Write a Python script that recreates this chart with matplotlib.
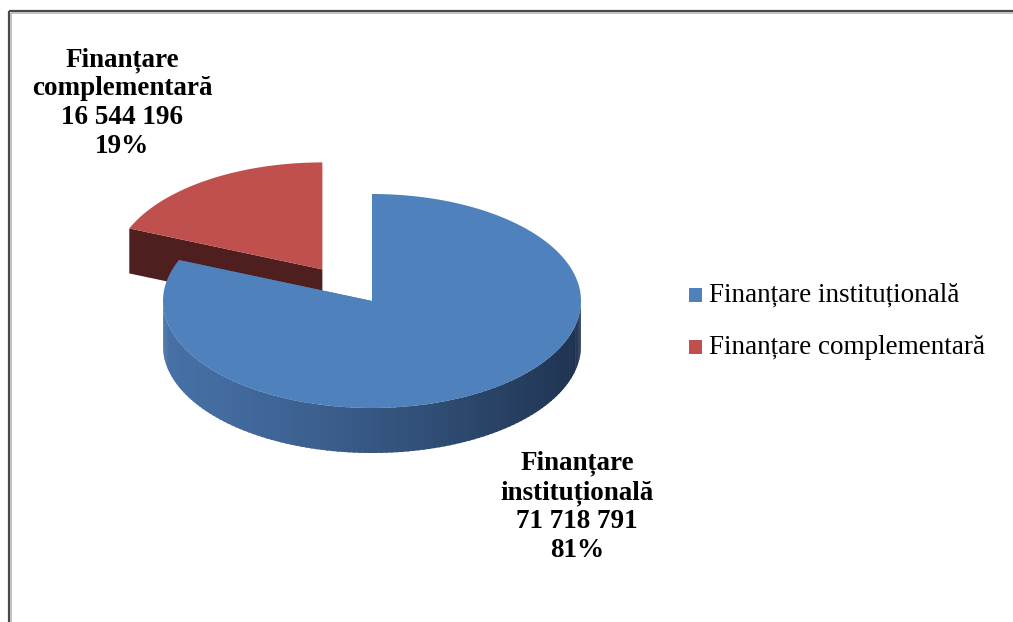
import numpy as np
import matplotlib.pyplot as plt
from matplotlib.patches import Polygon, Rectangle
from matplotlib.colors import to_rgb

# date
categorii = ['Finanțare instituțională', 'Finanțare complementară']
valori = [71718791, 16544196]
procente = ['81%', '19%']
etichete_valori = ['71 718 791', '16 544 196']
culori_sus = ['#4F81BD', '#C0504D']
culori_lat = [('#4670A6', '#1F3350'), ('#4F1E1E', '#4F1E1E')]
explode = [0.0, 0.4]

fig = plt.figure(figsize=(10.13, 6.22), dpi=100)
ax = fig.add_axes([0, 0, 1, 1])
ax.set_xlim(0, 1013)
ax.set_ylim(622, 0)
ax.axis('off')

# chenar
ax.add_patch(Rectangle((8.5, 10.5), 1200, 1200, fill=False, ec='#4a4a4a', lw=1.6))
ax.add_patch(Rectangle((10.5, 12.5), 1200, 1200, fill=False, ec='#b8b8b8', lw=1.2))

# geometrie pie 3D (ellipsa)
cx, cy, rx, ry, h = 372, 301, 209, 107, 45

total = sum(valori)
fr = [v / total for v in valori]
# prima felie porneste de la ora 12 si merge in sensul acelor de ceas
unghiuri = []
start = 90.0
for f in fr:
    unghiuri.append((start - 360 * f, start))
    start = start - 360 * f


def pct(c, t, dz=0):
    r = np.radians(t)
    return (c[0] + rx * np.cos(r), c[1] - ry * np.sin(r) + dz)


def centru(i):
    a0, a1 = unghiuri[i]
    m = np.radians((a0 + a1) / 2)
    e = explode[i]
    return (cx + e * rx * np.cos(m) - 8 * e, cy - e * ry * np.sin(m) + 10 * e)


def mix(c1, c2, t):
    a, b = np.array(to_rgb(c1)), np.array(to_rgb(c2))
    return a + (b - a) * t


def deseneaza(i):
    a0, a1 = unghiuri[i]
    c = centru(i)
    # fetele radiale
    for a in (a0, a1):
        p = pct(c, a)
        verts = [c, p, (p[0], p[1] + h), (c[0], c[1] + h)]
        ax.add_patch(Polygon(verts, closed=True, fc=culori_lat[i][0], ec='none', zorder=2))
    # perete lateral, partea din fata (180..360)
    segs = []
    for k in range(-1, 2):
        s0, s1 = max(a0, 180 + 360 * k), min(a1, 360 + 360 * k)
        if s1 > s0:
            segs.append((s0, s1))
    for s0, s1 in segs:
        n = int((s1 - s0) / 1.5) + 2
        tt = np.linspace(s0, s1, n)
        for j in range(n - 1):
            t0, t1 = tt[j], min(tt[j + 1] + 0.6, s1)
            p0, p1 = pct(c, t0), pct(c, t1)
            x = (np.cos(np.radians((t0 + t1) / 2)) + 1) / 2
            col = mix(culori_lat[i][0], culori_lat[i][1], x ** 1.3)
            verts = [p0, p1, (p1[0], p1[1] + h), (p0[0], p0[1] + h)]
            ax.add_patch(Polygon(verts, closed=True, fc=col, ec='none', zorder=3))
    # fata de sus
    tt = np.linspace(a0, a1, 200)
    verts = [c] + [pct(c, t) for t in tt]
    ax.add_patch(Polygon(verts, closed=True, fc=culori_sus[i], ec='none', zorder=4))


# felia din spate mai intai
deseneaza(1)
deseneaza(0)

font = ['Liberation Serif', 'DejaVu Serif']
ax.text(122, 103, f'{categorii[1].replace(" ", chr(10))}\n{etichete_valori[1]}\n{procente[1]}',
        ha='center', va='center', fontsize=19.5, fontweight='bold', family=font,
        linespacing=1.2, zorder=6)
ax.text(577, 507, 'Finanțare\ninstituțională\n' + f'{etichete_valori[0]}\n{procente[0]}',
        ha='center', va='center', fontsize=19.5, fontweight='bold', family=font,
        linespacing=1.2, zorder=6)

# legenda
for k, (nume, col) in enumerate(zip(categorii, culori_sus)):
    y = 295 + k * 52
    ax.add_patch(Rectangle((689, y - 7), 13, 14, fc=col, ec='none'))
    ax.text(709, y, nume, ha='left', va='center', fontsize=19.5, family=font)

fig.savefig('out.png', dpi=100)
